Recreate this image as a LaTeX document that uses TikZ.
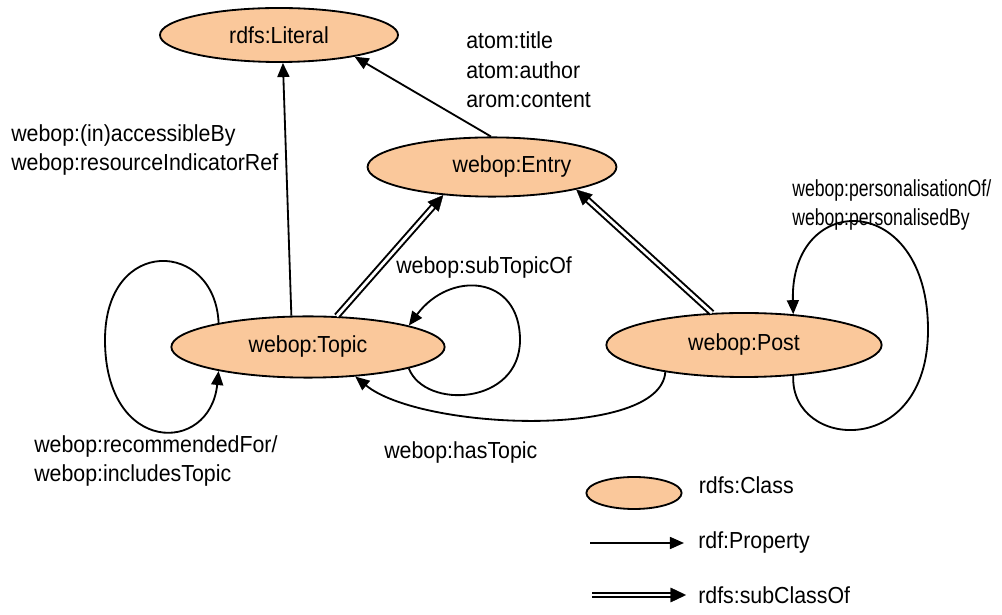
\documentclass[tikz,border=0pt]{standalone}
\usepackage{fontspec}
\setmainfont{Liberation Sans}[FakeStretch=0.92]
\newfontfamily\narrowlbl{Liberation Sans}[FakeStretch=0.76]
\usetikzlibrary{positioning}
\usetikzlibrary{shapes.geometric}
\usetikzlibrary{arrows.meta}
\definecolor{clsfill}{RGB}{250,200,155}

\begin{document}
\begin{tikzpicture}[x=0.025cm,y=-0.025cm,
        cls/.style={ellipse,draw=black,line width=1.3pt,fill=clsfill,inner sep=0pt},
        lbl/.style={align=left,anchor=west,inner sep=0pt},
        prop/.style={line width=1.3pt,-{Triangle[length=10pt,width=8.5pt]}},
        subcls/.style={double,double distance=2pt,line width=1.4pt,shorten >=9pt},
        subtip/.style={draw=white,line width=0.2pt,-{Triangle[length=11pt,width=10.5pt,color=black]}}
        ]
        \fontsize{16.5}{21}\selectfont
        \useasboundingbox (0,0) rectangle (1002,615);
        \node (lit)   [cls,minimum width=5.95cm,minimum height=1.35cm] at (279,35)  {rdfs:Literal};
        \node (entry) [cls,minimum width=6.22cm,minimum height=1.48cm] at (492,167) {\hspace*{1.0cm}webop:Entry};
        \node (topic) [cls,minimum width=6.83cm,minimum height=1.53cm] at (308,347) {webop:Topic};
        \node (post)  [cls,minimum width=6.88cm,minimum height=1.6cm]  at (744,345) {webop:Post};
        \draw[prop] (topic.118) -- (lit.-82);
        \draw[prop] (entry.92) -- (lit.-16);
        \draw[subcls] (topic.47) -- (entry.210);
        \draw[subtip] (topic.47) -- (entry.210);
        \draw[subcls] (post.135) -- (entry.-15);
        \draw[subtip] (post.135) -- (entry.-15);
        \draw[prop] (topic.165) .. controls (215,240) and (105,235) .. (105,340) .. controls (105,455) and (210,455) .. (topic.195);
        \draw[prop] (topic.-12) .. controls (425,410) and (520,405) .. (520,340) .. controls (520,275) and (450,270) .. (topic.12);
        \draw[prop] (post.199) .. controls (660,440) and (420,430) .. (topic.-32);
        \draw[prop] (post.-32) .. controls (790,450) and (928,460) .. (928,330) .. controls (928,190) and (790,190) .. (post.32);
        \node (lbltitle)  [lbl] at (466,70)  {atom:title\\atom:author\\arom:content};
        \node (lblaccess) [lbl] at (11,150)  {webop:(in)accessibleBy\\webop:resourceIndicatorRef};
        \node (lblpers)   [lbl,font=\narrowlbl] at (792,205) {webop:personalisationOf/\\webop:personalisedBy};
        \node (lblsub)    [lbl] at (396,268) {webop:subTopicOf};
        \node (lblrec)    [lbl] at (34,461)  {webop:recommendedFor/\\webop:includesTopic};
        \node (lblhas)    [lbl] at (384,453) {webop:hasTopic};
        % legend
        \node (lcls) [cls,minimum width=2.38cm,minimum height=0.8cm] at (634,493) {};
        \node (lclstxt) [lbl,right=0.4cm of lcls,yshift=0.2cm] {rdfs:Class};
        \coordinate (pa) at (590,543);
        \coordinate (pb) at (684,543);
        \draw[prop] (pa) -- (pb);
        \node (ptxt) [lbl,right=0.35cm of pb] {rdf:Property};
        \coordinate (sa) at (592,595);
        \coordinate (sb) at (686,595);
        \draw[subcls] (sa) -- (sb);
        \draw[subtip] (sa) -- (sb);
        \node (stxt) [lbl,right=0.3cm of sb] {rdfs:subClassOf};
\end{tikzpicture}
\end{document}
